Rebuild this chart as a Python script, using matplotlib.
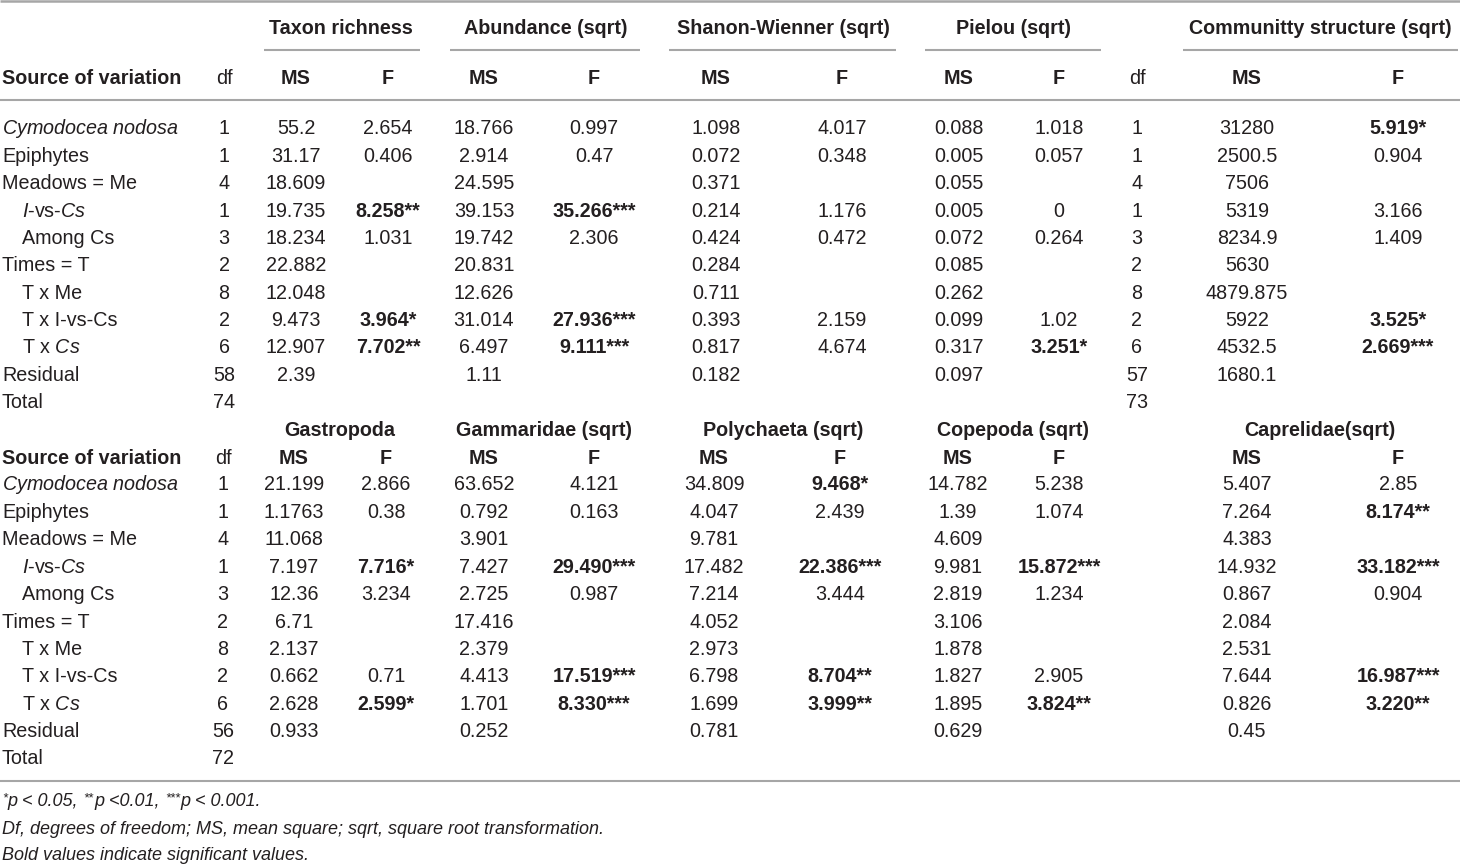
import re
import matplotlib
matplotlib.use('Agg')
import matplotlib.pyplot as plt

FONT = 'Liberation Sans'
plt.rcParams['font.family'] = [FONT, 'DejaVu Sans']
plt.rcParams['mathtext.fontset'] = 'custom'
plt.rcParams['mathtext.rm'] = FONT
plt.rcParams['mathtext.it'] = FONT + ':italic'
plt.rcParams['mathtext.bf'] = FONT + ':bold'

# ---------------- data ----------------
sources = ['$\\mathit{Cymodocea\\ nodosa}$', 'Epiphytes', 'Meadows = Me', '$\\mathit{I}$-vs-$\\mathit{Cs}$',
           'Among Cs', 'Times = T', 'T x Me', 'T x I-vs-Cs', 'T x $\\mathit{Cs}$', 'Residual', 'Total']
indent = [0, 0, 0, 1, 1, 0, 1, 1, 1, 0, 0]

# Section 1
df1 = ['1', '1', '4', '1', '3', '2', '8', '2', '6', '58', '74']
groups1 = ['Taxon richness', 'Abundance (sqrt)', 'Shanon-Wienner (sqrt)', 'Pielou (sqrt)', 'Communitty structure (sqrt)']
taxon_ms = ['55.2', '31.17', '18.609', '19.735', '18.234', '22.882', '12.048', '9.473', '12.907', '2.39', '']
taxon_f = ['2.654', '0.406', '', '8.258**', '1.031', '', '', '3.964*', '7.702**', '', '']
abund_ms = ['18.766', '2.914', '24.595', '39.153', '19.742', '20.831', '12.626', '31.014', '6.497', '1.11', '']
abund_f = ['0.997', '0.47', '', '35.266***', '2.306', '', '', '27.936***', '9.111***', '', '']
shan_ms = ['1.098', '0.072', '0.371', '0.214', '0.424', '0.284', '0.711', '0.393', '0.817', '0.182', '']
shan_f = ['4.017', '0.348', '', '1.176', '0.472', '', '', '2.159', '4.674', '', '']
piel_ms = ['0.088', '0.005', '0.055', '0.005', '0.072', '0.085', '0.262', '0.099', '0.317', '0.097', '']
piel_f = ['1.018', '0.057', '', '0', '0.264', '', '', '1.02', '3.251*', '', '']
df1b = ['1', '1', '4', '1', '3', '2', '8', '2', '6', '57', '73']
comm_ms = ['31280', '2500.5', '7506', '5319', '8234.9', '5630', '4879.875', '5922', '4532.5', '1680.1', '']
comm_f = ['5.919*', '0.904', '', '3.166', '1.409', '', '', '3.525*', '2.669***', '', '']

# Section 2
df2 = ['1', '1', '4', '1', '3', '2', '8', '2', '6', '56', '72']
groups2 = ['Gastropoda', 'Gammaridae (sqrt)', 'Polychaeta (sqrt)', 'Copepoda (sqrt)', 'Caprelidae(sqrt)']
gast_ms = ['21.199', '1.1763', '11.068', '7.197', '12.36', '6.71', '2.137', '0.662', '2.628', '0.933', '']
gast_f = ['2.866', '0.38', '', '7.716*', '3.234', '', '', '0.71', '2.599*', '', '']
gamm_ms = ['63.652', '0.792', '3.901', '7.427', '2.725', '17.416', '2.379', '4.413', '1.701', '0.252', '']
gamm_f = ['4.121', '0.163', '', '29.490***', '0.987', '', '', '17.519***', '8.330***', '', '']
poly_ms = ['34.809', '4.047', '9.781', '17.482', '7.214', '4.052', '2.973', '6.798', '1.699', '0.781', '']
poly_f = ['9.468*', '2.439', '', '22.386***', '3.444', '', '', '8.704**', '3.999**', '', '']
cope_ms = ['14.782', '1.39', '4.609', '9.981', '2.819', '3.106', '1.878', '1.827', '1.895', '0.629', '']
cope_f = ['5.238', '1.074', '', '15.872***', '1.234', '', '', '2.905', '3.824**', '', '']
capr_ms = ['5.407', '7.264', '4.383', '14.932', '0.867', '2.084', '2.531', '7.644', '0.826', '0.45', '']
capr_f = ['2.85', '8.174**', '', '33.182***', '0.904', '', '', '16.987***', '3.220**', '', '']

footnotes = ['*p < 0.05, **p <0.01, ***p < 0.001.',
             'Df, degrees of freedom; MS, mean square; sqrt, square root transformation.',
             'Bold values indicate significant values.']

# ---------------- layout ----------------
W, H = 1460, 864
fig = plt.figure(figsize=(W / 100, H / 100), dpi=100)
ax = fig.add_axes([0, 0, 1, 1])
ax.set_xlim(0, W)
ax.set_ylim(H, 0)
ax.axis('off')

TXT = '#231f20'
LINE = '#a6a6a6'
FS = 14.2
FS_NOTE = 13.0

col_x1 = [224, 296, 388, 484, 594, 716, 842, 959, 1059, 1137, 1247, 1398]
col_x2 = [223, 294, 386, 484, 594, 714, 840, 958, 1059, 1247, 1398]
group_x1 = [341, 546, 783, 1013, 1320]
group_x2 = [340, 544, 783, 1013, 1320]
under1 = [(264, 420), (450, 640), (669, 896), (925, 1101), (1183, 1458)]


def cell(x, y, s, ha='center', bold=None, **kw):
    if s == '':
        return
    if bold is None:
        bold = '*' in s
    ax.text(x, y, s, ha=ha, va='center', fontsize=FS, color=TXT,
            fontweight='bold' if bold else 'normal', **kw)


def hline(y, x0=0, x1=W, lw=1.5):
    ax.plot([x0, x1], [y, y], color=LINE, lw=lw, solid_capstyle='butt')


# lines
hline(1.2, lw=1.8)
for a, b in under1:
    hline(50, a, b, lw=1.5)
hline(100, lw=1.5)
hline(781, lw=1.5)

# ---------- section 1 ----------
yg1, yh1, y01, dy = 29, 78, 129, 27.35
for gx, g in zip(group_x1, groups1):
    cell(gx, yg1, g, bold=True)
cell(2, yh1, 'Source of variation', ha='left', bold=True)
hdr1 = ['df', 'MS', 'F', 'MS', 'F', 'MS', 'F', 'MS', 'F', 'df', 'MS', 'F']
for x, h in zip(col_x1, hdr1):
    cell(x, yh1, h, bold=(h != 'df'))
cols1 = [df1, taxon_ms, taxon_f, abund_ms, abund_f, shan_ms, shan_f,
         piel_ms, piel_f, df1b, comm_ms, comm_f]
for i in range(len(sources)):
    y = y01 + i * dy
    cell(2 + 20 * indent[i], y, sources[i], ha='left', bold=False)
    for x, col in zip(col_x1, cols1):
        cell(x, y, col[i])

# ---------- section 2 ----------
yg2, yh2, y02, dy2 = 430, 458, 485, 27.4
for gx, g in zip(group_x2, groups2):
    cell(gx, yg2, g, bold=True)
cell(2, yh2, 'Source of variation', ha='left', bold=True)
hdr2 = ['df', 'MS', 'F', 'MS', 'F', 'MS', 'F', 'MS', 'F', 'MS', 'F']
for x, h in zip(col_x2, hdr2):
    cell(x, yh2, h, bold=(h != 'df'))
cols2 = [df2, gast_ms, gast_f, gamm_ms, gamm_f, poly_ms, poly_f,
         cope_ms, cope_f, capr_ms, capr_f]
for i in range(len(sources)):
    y = y02 + i * dy2
    cell(2 + 20 * indent[i], y, sources[i], ha='left', bold=False)
    for x, col in zip(col_x2, cols2):
        cell(x, y, col[i])

# ---------- footnotes ----------
renderer = fig.canvas.get_renderer()
note_y = [802, 829, 855]
for fy, t in zip(note_y, footnotes):
    x = 2
    for piece in re.split(r'(\*+)', t):
        if piece == '':
            continue
        if piece.startswith('*'):
            tx = ax.text(x, fy - 4, piece, ha='left', va='center',
                         fontsize=FS_NOTE * 0.72, color=TXT, fontstyle='italic')
        else:
            tx = ax.text(x, fy, piece, ha='left', va='center',
                         fontsize=FS_NOTE, color=TXT, fontstyle='italic')
        bb = tx.get_window_extent(renderer=renderer)
        x = x + bb.width + 0.5

fig.savefig('out.png', dpi=100)
